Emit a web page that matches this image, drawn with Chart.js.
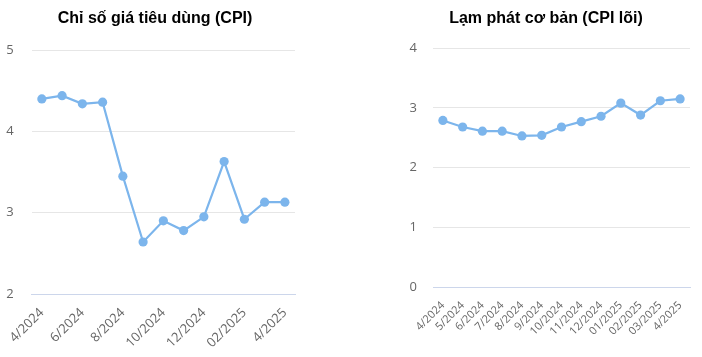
<!DOCTYPE html>
<html>
<head>
<meta charset="utf-8">
<script src="https://cdn.jsdelivr.net/npm/chart.js@4"></script>
<style>
html,body{margin:0;padding:0;background:#fff;}
#l{position:absolute;left:0;top:0;width:310px;height:357px;}
#r{position:absolute;left:388px;top:0;width:314px;height:357px;}
</style>
</head>
<body>
<div id="l"><canvas id="c1"></canvas></div>
<div id="r"><canvas id="c2"></canvas></div>
<script>
const months = ['4/2024','5/2024','6/2024','7/2024','8/2024','9/2024','10/2024','11/2024','12/2024','01/2025','02/2025','03/2025','4/2025'];
const cpiValues = [4.40, 4.44, 4.34, 4.36, 3.45, 2.64, 2.90, 2.78, 2.95, 3.63, 2.92, 3.13, 3.13];
const coreValues = [2.79, 2.68, 2.61, 2.61, 2.53, 2.54, 2.68, 2.77, 2.86, 3.08, 2.88, 3.12, 3.15];
const cpiTitle = 'Chỉ số giá tiêu dùng (CPI)';
const coreTitle = 'Lạm phát cơ bản (CPI lõi)';
const cpiRange = [2, 5];
const coreRange = [0, 4];

const LINE = '#7cb5ec';

function makeChart(id, title, values, range, o) {
  return new Chart(document.getElementById(id), {
    type: 'line',
    data: {
      labels: months,
      datasets: [{
        data: values,
        borderColor: LINE,
        backgroundColor: LINE,
        borderWidth: 2.2,
        tension: 0,
        pointRadius: 4.6,
        pointBorderWidth: 0,
        pointBackgroundColor: LINE,
        pointBorderColor: LINE,
        fill: false
      }]
    },
    plugins: [{
      id: 'titleShift',
      afterLayout(chart) {
        const t = chart.titleBlock;
        if (t && o.titleShift) { t.left += o.titleShift; t.right += o.titleShift; }
      }
    }],
    options: {
      responsive: true,
      maintainAspectRatio: false,
      animation: false,
      layout: { padding: { left: o.padLeft, right: o.padRight, top: 0, bottom: 0 } },
      plugins: {
        legend: { display: false },
        tooltip: { enabled: false },
        title: {
          display: true,
          text: title,
          color: '#000',
          font: { family: 'Liberation Sans', size: 16, weight: 'bold' },
          padding: { top: 9, bottom: o.titleBottom }
        }
      },
      scales: {
        x: {
          offset: true,
          afterFit: s => { s.height = o.xHeight; },
          grid: { display: false, drawTicks: false },
          border: { display: true, color: '#ccd6eb', width: 1 },
          ticks: {
            autoSkip: false,
            minRotation: o.rot,
            maxRotation: o.rot,
            padding: o.xPad,
            color: '#666',
            font: { family: 'Open Sans', size: o.xFont },
            callback: (v, i) => (i % o.every === 0 ? months[i] : '')
          }
        },
        y: {
          min: range[0],
          max: range[1],
          afterFit: s => { s.width = o.yWidth; },
          grid: {
            drawTicks: false,
            color: c => (c.tick && c.tick.value === range[0]) ? 'rgba(0,0,0,0)' : '#e6e6e6'
          },
          border: { display: false },
          ticks: {
            stepSize: 1,
            padding: o.yPad,
            color: '#666',
            font: { family: 'Open Sans', size: 13 }
          }
        }
      }
    }
  });
}

makeChart('c1', cpiTitle, cpiValues, cpiRange,
  { padLeft: 0, padRight: 15, titleShift: 7.5, titleBottom: 22, xHeight: 63, yWidth: 31, yPad: 18, rot: 45, xFont: 13, xPad: 11, every: 2 });
makeChart('c2', coreTitle, coreValues, coreRange,
  { padLeft: 14, padRight: 12, titleShift: 0, titleBottom: 20, xHeight: 70, yWidth: 31, yPad: 16, rot: 45, xFont: 11, xPad: 12, every: 1 });
</script>
</body>
</html>
